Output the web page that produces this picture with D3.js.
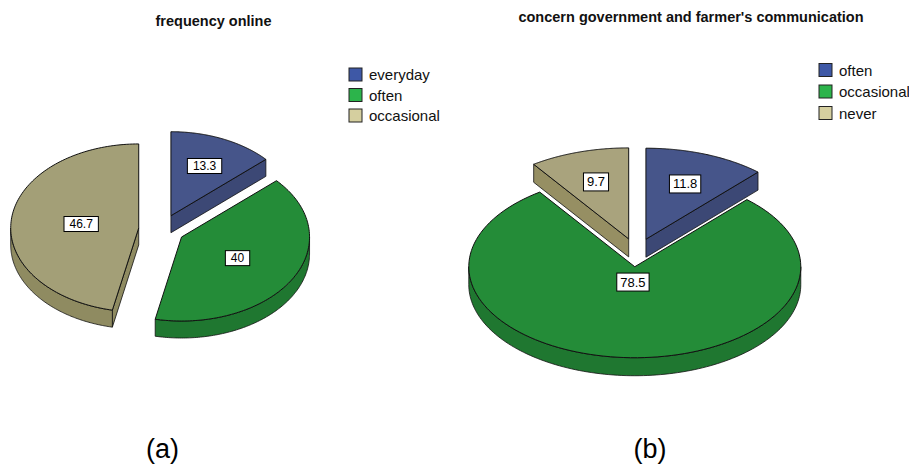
<!DOCTYPE html>
<html>
<head>
<meta charset="utf-8">
<script src="https://cdn.jsdelivr.net/npm/d3@7"></script>
<style>
  html, body { margin: 0; padding: 0; background: #fff; }
  svg { display: block; font-family: Arial, "Liberation Sans", sans-serif; }
</style>
</head>
<body>
<svg id="chart" width="909" height="465"></svg>
<script>
// ---- data ----
const titleA = "frequency online";
const categoriesA = ["everyday", "often", "occasional"];
const valuesA = [13.3, 40, 46.7];
const labelsA = ["13.3", "40", "46.7"];
const colorsTopA = ["#46558a", "#248c38", "#a39f77"];
const colorsLegendA = ["#3e58a6", "#2cb44b", "#d5cf9f"];

const titleB = "concern government and farmer's communication";
const categoriesB = ["often", "occasional", "never"];
const valuesB = [11.8, 78.5, 9.7];
const labelsB = ["11.8", "78.5", "9.7"];
const colorsTopB = ["#46558a", "#248c38", "#a9a37d"];
const colorsLegendB = ["#3e58a6", "#2cb44b", "#d5cf9f"];

const captions = ["(a)", "(b)"];

// ---- helpers ----
const svg = d3.select("#chart");

function shade(c, f) {
  const h = d3.hsl(c);
  h.l = h.l * f;
  return h.formatHex();
}

function drawPie(cfg) {
  const g = svg.append("g");
  const arcs = d3.pie().sort(null).value(d => d)(cfg.values);
  const color = d3.scaleOrdinal().domain(cfg.categories).range(cfg.colors);
  const legColor = d3.scaleOrdinal().domain(cfg.categories).range(cfg.legendColors);
  const k = cfg.ry / cfg.rx;
  const N = 120;

  arcs.forEach((a, i) => {
    const s = a.startAngle, e = a.endAngle, m = (s + e) / 2;
    const ax = cfg.cx + cfg.explode * Math.sin(m);
    const ay = cfg.cy - cfg.explode * k * Math.cos(m);
    const P = (t, dy) => [ax + cfg.rx * Math.sin(t), ay - cfg.ry * Math.cos(t) + (dy || 0)];
    const arcPts = (t0, t1, dy) => d3.range(N + 1).map(j => P(t0 + (t1 - t0) * j / N, dy));
    const top = color(cfg.categories[i]);
    const side = shade(top, 0.85);
    const line = d3.line();

    // radial walls
    const walls = [];
    if (Math.sin(s) < -1e-6) walls.push(s);
    if (Math.sin(e) > 1e-6) walls.push(e);
    walls.forEach(t => {
      const p = P(t), pb = P(t, cfg.depth);
      g.append("path")
        .attr("d", line([[ax, ay], p, pb, [ax, ay + cfg.depth]]) + "Z")
        .attr("fill", side).attr("stroke", "#111").attr("stroke-width", 0.8)
        .attr("stroke-linejoin", "round");
    });

    // outer wall (front half)
    const lo = Math.max(s, Math.PI / 2), hi = Math.min(e, 3 * Math.PI / 2);
    if (lo < hi) {
      const pts = arcPts(lo, hi, 0).concat(arcPts(hi, lo, cfg.depth));
      g.append("path")
        .attr("d", line(pts) + "Z")
        .attr("fill", side).attr("stroke", "#111").attr("stroke-width", 0.8)
        .attr("stroke-linejoin", "round");
    }

    // top face
    const topPts = [[ax, ay]].concat(arcPts(s, e, 0));
    g.append("path")
      .attr("d", line(topPts) + "Z")
      .attr("fill", top).attr("stroke", "#111").attr("stroke-width", 1)
      .attr("stroke-linejoin", "round");
  });

  // labels at area centroid of sector
  arcs.forEach((a, i) => {
    const s = a.startAngle, e = a.endAngle, m = (s + e) / 2, half = (e - s) / 2;
    const ax = cfg.cx + cfg.explode * Math.sin(m);
    const ay = cfg.cy - cfg.explode * k * Math.cos(m);
    const f = (2 / 3) * Math.sin(half) / half;
    const lx = ax + f * cfg.rx * Math.sin(m);
    const ly = ay - f * cfg.ry * Math.cos(m);
    const lg = g.append("g");
    const t = lg.append("text")
      .attr("x", lx).attr("y", ly)
      .attr("text-anchor", "middle").attr("dominant-baseline", "central")
      .attr("font-size", cfg.labelFont).attr("fill", "#000")
      .text(cfg.labels[i]);
    const w = t.node().getComputedTextLength();
    lg.insert("rect", "text")
      .attr("x", lx - w / 2 - cfg.padX).attr("y", ly - cfg.boxH / 2)
      .attr("width", w + 2 * cfg.padX).attr("height", cfg.boxH)
      .attr("fill", "#fff").attr("stroke", "#000").attr("stroke-width", 1);
  });

  // title
  svg.append("text")
    .attr("x", cfg.titleX).attr("y", cfg.titleY)
    .attr("text-anchor", "middle").attr("font-weight", "bold")
    .attr("font-size", 14.5).attr("fill", "#111")
    .text(cfg.title);

  // legend
  const lgd = svg.append("g");
  cfg.categories.forEach((c, i) => {
    const y = cfg.legY + i * cfg.legStep;
    lgd.append("rect")
      .attr("x", cfg.legX).attr("y", y).attr("width", 13).attr("height", 13)
      .attr("fill", legColor(c)).attr("stroke", "#222").attr("stroke-width", 1);
    lgd.append("text")
      .attr("x", cfg.legX + 20).attr("y", y + 6.5)
      .attr("dominant-baseline", "central")
      .attr("font-size", 15).attr("fill", "#111")
      .text(c);
  });

  // caption
  svg.append("text")
    .attr("x", cfg.capX).attr("y", 458)
    .attr("text-anchor", "middle").attr("font-size", 27).attr("fill", "#000")
    .text(cfg.caption);
}

drawPie({
  title: titleA, categories: categoriesA, values: valuesA, labels: labelsA,
  colors: colorsTopA, legendColors: colorsLegendA,
  cx: 161.6, cy: 229.5, rx: 128, ry: 84, depth: 17, explode: 23,
  labelFont: 12, padX: 5.5, boxH: 15,
  titleX: 213.5, titleY: 26,
  legX: 349, legY: 68, legStep: 20.5,
  capX: 162.5, caption: captions[0]
});

drawPie({
  title: titleB, categories: categoriesB, values: valuesB, labels: labelsB,
  colors: colorsTopB, legendColors: colorsLegendB,
  cx: 636.5, cy: 252.5, rx: 166, ry: 91, depth: 18, explode: 26,
  labelFont: 13, padX: 3.5, boxH: 18,
  titleX: 691, titleY: 22,
  legX: 819, legY: 63.5, legStep: 21.5,
  capX: 650, caption: captions[1]
});
</script>
</body>
</html>
